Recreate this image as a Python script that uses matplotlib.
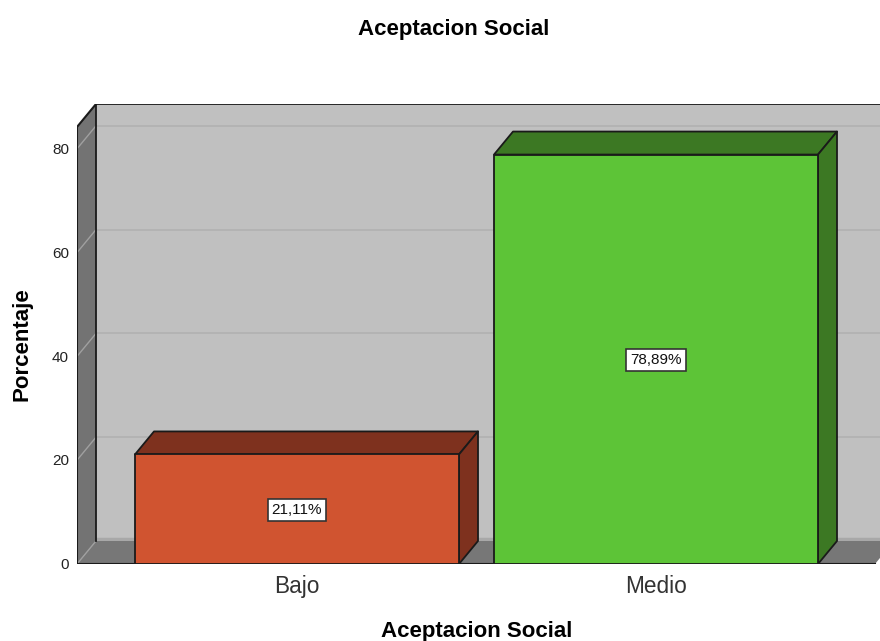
import matplotlib
matplotlib.use("Agg")
import matplotlib.pyplot as plt
from matplotlib.patches import Polygon

categories = ["Bajo", "Medio"]
values = [21.11, 78.89]
value_labels = ["21,11%", "78,89%"]
front_colors = ["#d05430", "#5dc437"]
dark_colors = ["#7e311e", "#3c7823"]
y_ticks = [0, 20, 40, 60, 80]

EDGE = "#1a1a1a"
PX_Y = 5.19    # pixels per percent
PX_X = 359.0   # pixels per category
BAR_W = 324 / PX_X
DX = 19 / PX_X   # depth of the fake 3d
DY = 23 / PX_Y
X_MIN = (77 - 297) / PX_X
X_MAX = (875 - 297) / PX_X
Y_MAX = (564 - 127) / PX_Y


def poly(ax, pts, color, edge=EDGE, lw=1.3, z=1):
    ax.add_patch(Polygon(pts, closed=True, facecolor=color, edgecolor=edge,
                         linewidth=lw, zorder=z, joinstyle="round"))


def draw_box(ax, x, val, front, dark):
    x0 = x - BAR_W / 2
    x1 = x + BAR_W / 2
    poly(ax, [(x0, val), (x1, val), (x1 + DX, val + DY), (x0 + DX, val + DY)], dark, z=4)
    poly(ax, [(x1, 0), (x1 + DX, DY), (x1 + DX, val + DY), (x1, val)], dark, z=4)
    poly(ax, [(x0, 0), (x1, 0), (x1, val), (x0, val)], front, z=5)


def main():
    plt.rcParams["font.family"] = ["Liberation Sans", "DejaVu Sans"]
    fig = plt.figure(figsize=(8.8, 6.41), dpi=100)
    ax = fig.add_axes([77 / 880, 1 - 564 / 641, 803 / 880, 460 / 641])
    ax.set_xlim(X_MIN, X_MIN + 803 / PX_X)
    ax.set_ylim(0, 460 / PX_Y)
    ax.axis("off")

    # walls
    poly(ax, [(X_MIN + DX, DY), (X_MAX + DX, DY), (X_MAX + DX, Y_MAX + DY), (X_MIN + DX, Y_MAX + DY)], "#c0c0c0", edge="none", z=1)
    poly(ax, [(X_MIN, 0), (X_MIN + DX, DY), (X_MIN + DX, Y_MAX + DY), (X_MIN, Y_MAX)], "#737373", edge="none", z=2)
    poly(ax, [(X_MIN, 0), (X_MAX, 0), (X_MAX + DX, DY), (X_MIN + DX, DY)], "#777777", edge="none", z=2)
    ax.plot([X_MIN + DX, X_MAX + DX], [DY + 0.35, DY + 0.35], color="#a8a8a8", lw=2.5, zorder=1.5, solid_capstyle="butt")

    # gridlines, back wall and side wall
    for t in y_ticks[1:]:
        ax.plot([X_MIN + DX, X_MAX + DX], [t + DY, t + DY], color="#b2b2b2", lw=1.3, zorder=1.5)
    for t in y_ticks:
        ax.plot([X_MIN, X_MIN + DX], [t, t + DY], color="#a0a0a0", lw=1, zorder=3)

    # outlines of the frame
    ax.plot([X_MIN + DX, X_MIN + DX, X_MAX + DX], [DY, Y_MAX + DY, Y_MAX + DY], color=EDGE, lw=1.3, zorder=3.5)
    ax.plot([X_MIN + DX, X_MIN, X_MIN, X_MAX], [Y_MAX + DY, Y_MAX, 0, 0], color=EDGE, lw=1.5, zorder=3.5)

    for i, cat in enumerate(categories):
        draw_box(ax, i, values[i], front_colors[i], dark_colors[i])
        ax.text(i, values[i] / 2 - 0.15, value_labels[i], ha="center", va="center",
                fontsize=11, color="#111111", zorder=6,
                bbox=dict(boxstyle="square,pad=0.25", facecolor="white", edgecolor="#333333", linewidth=1.2))
        ax.text(i, -4.4, cat, ha="center", va="center", fontsize=16.3, color="#333333")

    for t in y_ticks:
        ax.text(X_MIN - 8 / PX_X, t - 0.25, str(t), ha="right", va="center", fontsize=11, color="#222222")

    fig.text(454 / 880, 1 - 29 / 641, "Aceptacion Social", ha="center", va="center", fontsize=16, fontweight="bold")
    fig.text(476.5 / 880, 1 - 631 / 641, "Aceptacion Social", ha="center", va="center", fontsize=16, fontweight="bold")
    fig.text(22.5 / 880, 1 - 344.5 / 641, "Porcentaje", ha="center", va="center", rotation=90, fontsize=16, fontweight="bold")

    fig.savefig("out.png", dpi=100)


if __name__ == "__main__":
    main()
